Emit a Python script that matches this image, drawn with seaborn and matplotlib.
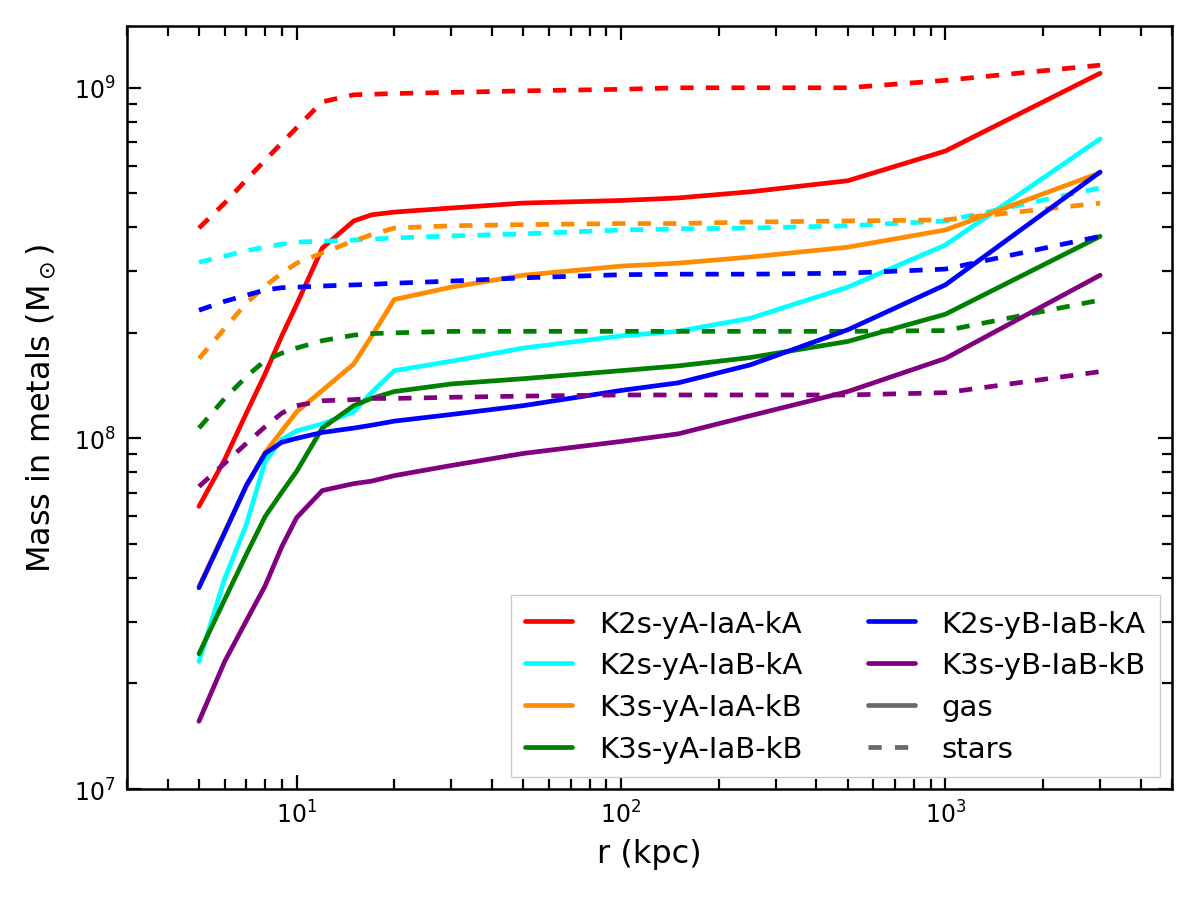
import numpy as np
import pandas as pd
import seaborn as sns
import matplotlib
matplotlib.use("Agg")
import matplotlib.pyplot as plt
from matplotlib.lines import Line2D

# radios (kpc)
r = [5, 6, 7, 8, 9, 10, 12, 15, 17, 20, 30, 50, 100, 150, 250, 500, 1000, 3000]

modelos = ['K2s-yA-IaA-kA', 'K2s-yA-IaB-kA', 'K3s-yA-IaA-kB',
           'K3s-yA-IaB-kB', 'K2s-yB-IaB-kA', 'K3s-yB-IaB-kB']
colores = ['red', 'cyan', 'darkorange', 'green', 'blue', 'purple']

# masa en metales del gas
gas_k2s_ya_iaa_ka = [6.4e7, 8.7e7, 1.18e8, 1.53e8, 1.96e8, 2.41e8, 3.49e8, 4.17e8, 4.34e8,
                     4.42e8, 4.54e8, 4.69e8, 4.77e8, 4.85e8, 5.05e8, 5.43e8, 6.6e8, 1.10e9]
gas_k2s_ya_iab_ka = [2.31e7, 3.98e7, 5.68e7, 8.6e7, 9.93e7, 1.05e8, 1.10e8, 1.19e8, 1.35e8,
                     1.56e8, 1.66e8, 1.81e8, 1.96e8, 2.02e8, 2.20e8, 2.70e8, 3.56e8, 7.15e8]
gas_k3s_ya_iaa_kb = [3.78e7, 5.42e7, 7.29e7, 9.12e7, 1.05e8, 1.19e8, 1.37e8, 1.63e8, 1.95e8,
                     2.49e8, 2.70e8, 2.92e8, 3.10e8, 3.16e8, 3.29e8, 3.51e8, 3.93e8, 5.72e8]
gas_k3s_ya_iab_kb = [2.43e7, 3.47e7, 4.67e7, 5.99e7, 7.02e7, 8.05e7, 1.07e8, 1.24e8, 1.30e8,
                     1.36e8, 1.43e8, 1.48e8, 1.56e8, 1.61e8, 1.70e8, 1.89e8, 2.26e8, 3.77e8]
gas_k2s_yb_iab_ka = [3.75e7, 5.38e7, 7.35e7, 9.06e7, 9.75e7, 1.0e8, 1.04e8, 1.07e8, 1.09e8,
                     1.12e8, 1.17e8, 1.24e8, 1.37e8, 1.44e8, 1.62e8, 2.04e8, 2.74e8, 5.75e8]
gas_k3s_yb_iab_kb = [1.56e7, 2.31e7, 3.02e7, 3.8e7, 4.91e7, 5.94e7, 7.1e7, 7.43e7, 7.55e7,
                     7.83e7, 8.37e7, 9.06e7, 9.8e7, 1.03e8, 1.16e8, 1.36e8, 1.69e8, 2.92e8]

# masa en metales de las estrellas
est_k2s_ya_iaa_ka = [3.98e8, 4.69e8, 5.46e8, 6.22e8, 6.96e8, 7.69e8, 9.12e8, 9.55e8, 9.58e8,
                     9.63e8, 9.7e8, 9.8e8, 9.9e8, 1.0e9, 1.0e9, 1.0e9, 1.05e9, 1.16e9]
est_k2s_ya_iab_ka = [3.18e8, 3.31e8, 3.43e8, 3.51e8, 3.58e8, 3.63e8, 3.65e8, 3.68e8, 3.70e8,
                     3.73e8, 3.78e8, 3.83e8, 3.93e8, 3.96e8, 3.98e8, 4.04e8, 4.17e8, 5.18e8]
est_k3s_ya_iaa_kb = [1.69e8, 2.06e8, 2.43e8, 2.72e8, 2.96e8, 3.16e8, 3.38e8, 3.66e8, 3.81e8,
                     3.98e8, 4.04e8, 4.07e8, 4.10e8, 4.10e8, 4.14e8, 4.17e8, 4.2e8, 4.69e8]
est_k3s_ya_iab_kb = [1.07e8, 1.30e8, 1.50e8, 1.67e8, 1.75e8, 1.81e8, 1.90e8, 1.97e8, 1.99e8,
                     2.0e8, 2.02e8, 2.02e8, 2.02e8, 2.02e8, 2.02e8, 2.02e8, 2.03e8, 2.48e8]
est_k2s_yb_iab_ka = [2.32e8, 2.46e8, 2.56e8, 2.65e8, 2.69e8, 2.70e8, 2.72e8, 2.74e8, 2.75e8,
                     2.77e8, 2.81e8, 2.87e8, 2.93e8, 2.94e8, 2.94e8, 2.96e8, 3.04e8, 3.77e8]
est_k3s_yb_iab_kb = [7.29e7, 8.49e7, 9.68e7, 1.08e8, 1.18e8, 1.24e8, 1.28e8, 1.29e8, 1.30e8,
                     1.30e8, 1.31e8, 1.32e8, 1.33e8, 1.33e8, 1.33e8, 1.33e8, 1.35e8, 1.55e8]

gas = [gas_k2s_ya_iaa_ka, gas_k2s_ya_iab_ka, gas_k3s_ya_iaa_kb,
       gas_k3s_ya_iab_kb, gas_k2s_yb_iab_ka, gas_k3s_yb_iab_kb]
estrellas = [est_k2s_ya_iaa_ka, est_k2s_ya_iab_ka, est_k3s_ya_iaa_kb,
             est_k3s_ya_iab_kb, est_k2s_yb_iab_ka, est_k3s_yb_iab_kb]

#CONSTRUIR EL DATA FRAME LARGO
filas = []
for mod, g, s in zip(modelos, gas, estrellas):
    for ri, gi, si in zip(r, g, s):
        filas.append((ri, gi, mod, 'gas'))
        filas.append((ri, si, mod, 'stars'))
df = pd.DataFrame(filas, columns=['r', 'masa', 'modelo', 'fase'])

sns.set_style('ticks')
plt.rcParams['font.family'] = ['DejaVu Sans']
plt.rcParams['text.color'] = 'black'
plt.rcParams['axes.labelcolor'] = 'black'
plt.rcParams['xtick.color'] = 'black'
plt.rcParams['ytick.color'] = 'black'

fig = plt.figure(figsize=(11.96, 9.04), dpi=100)
ax = fig.add_axes([0.1062, 0.1261, 0.8738, 0.844])

lw = 3.4
sns.lineplot(data=df, x='r', y='masa', hue='modelo', style='fase',
             hue_order=modelos, style_order=['gas', 'stars'],
             palette=dict(zip(modelos, colores)),
             dashes={'gas': '', 'stars': (2.8, 2.6)},
             estimator=None, sort=True, linewidth=lw, legend=False, ax=ax)

ax.set_xscale('log')
ax.set_yscale('log')
ax.set_xlim(3, 5000)
ax.set_ylim(1e7, 1.5e9)

ax.set_xlabel('r (kpc)', fontsize=23, labelpad=8)
ax.set_ylabel(r'Mass in metals (M$_\odot$)', fontsize=23, labelpad=12)

ax.tick_params(which='both', direction='in', top=True, right=True, width=1.6,
               labelsize=17, color='black', labelcolor='black')
ax.tick_params(which='major', length=10, pad=8)
ax.tick_params(which='minor', length=7)
for sp in ax.spines.values():
    sp.set_linewidth(1.8)
    sp.set_color('black')

#LEYENDA A MANO
handles = [Line2D([0], [0], color=c, lw=lw) for c in colores]
handles.append(Line2D([0], [0], color='dimgray', lw=lw))
handles.append(Line2D([0], [0], color='dimgray', lw=lw, dashes=(2.8, 2.8)))
etiquetas = modelos + ['gas', 'stars']
ax.legend(handles, etiquetas, loc='lower right', ncol=2, fontsize=21,
          handlelength=1.6, handletextpad=0.92, columnspacing=2.26,
          labelspacing=0.47, borderpad=0.5, borderaxespad=0.4,
          fancybox=False, edgecolor='0.8', framealpha=1.0)

fig.savefig('out.png', dpi=100)
